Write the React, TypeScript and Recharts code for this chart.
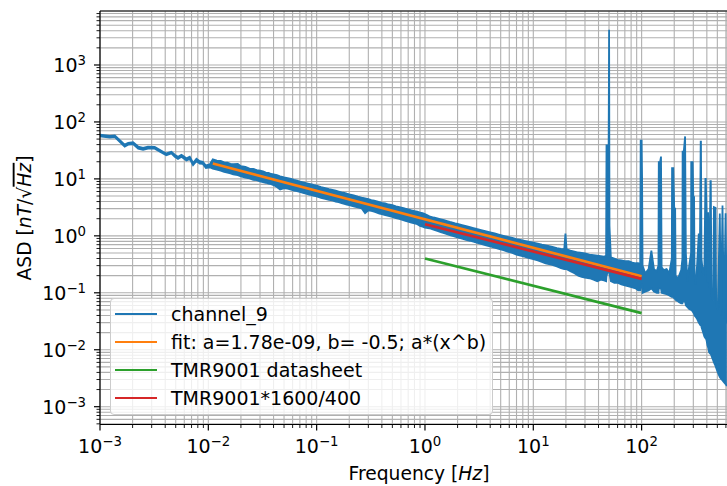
import React from 'react'
import { ComposedChart, Area, Line, XAxis, YAxis, CartesianGrid, ReferenceLine, Legend } from 'recharts'

// axis limits
const X_MIN = 1e-3
const X_MAX = 614
const Y_MIN = 4.87e-4
const Y_MAX = 8870

// channel_9 spectrum, read as the low / high edge of the noisy trace
const freqA = [0.001, 0.00123, 0.00137, 0.00169, 0.00182, 0.00202, 0.00225, 0.0025, 0.00277, 0.0032, 0.00382, 0.0041, 0.00456, 0.0049, 0.00525, 0.00565, 0.00628, 0.00674, 0.00723, 0.00777, 0.00834, 0.0089, 0.0095, 0.0103]
const highA = [60, 57, 58, 40, 43, 44, 37, 35, 37, 36.5, 30, 28, 30, 26.5, 24.5, 26.5, 23, 24.5, 19, 22.5, 20.5, 20, 17.2, 18]
const lowA = [56, 53, 54, 37, 40, 41, 34, 32.5, 34, 34, 28, 26, 28, 24.5, 22.5, 24.5, 21, 22.5, 17.5, 20.5, 18.5, 18.3, 15.5, 16]

const freqB = [0.011, 0.012, 0.013, 0.014, 0.015, 0.016, 0.017, 0.0187, 0.02, 0.022, 0.024, 0.026, 0.028, 0.03, 0.032, 0.034, 0.036, 0.038, 0.04, 0.043, 0.046, 0.05, 0.054, 0.058, 0.062, 0.066, 0.07, 0.075, 0.08, 0.085, 0.09, 0.095, 0.1, 0.11, 0.12, 0.13, 0.14, 0.15, 0.16, 0.17, 0.18, 0.19, 0.2, 0.22, 0.24, 0.26, 0.28, 0.3, 0.32, 0.34, 0.36, 0.38, 0.4, 0.43, 0.46, 0.5, 0.54, 0.58, 0.62, 0.66, 0.7, 0.75, 0.8, 0.85, 0.9, 0.95, 1.0]
const highB = [22.0, 21.0, 20.8, 19.5, 19.3, 18.4, 18.2, 18.3, 16.7, 16.2, 15.2, 15.0, 14.3, 13.9, 13.5, 12.9, 12.7, 12.2, 12.0, 11.6, 11.1, 10.6, 10.3, 10.0, 9.6, 9.3, 9.0, 8.7, 8.4, 8.2, 8.0, 7.8, 7.6, 7.2, 6.9, 6.6, 6.4, 6.2, 6.0, 5.8, 5.7, 5.5, 5.35, 5.15, 4.9, 4.7, 4.55, 4.4, 4.25, 4.15, 4.05, 3.9, 3.8, 3.7, 3.55, 3.45, 3.3, 3.2, 3.1, 3.0, 2.92, 2.8, 2.72, 2.65, 2.57, 2.5, 2.42]
const lowB = [15.2, 14.5, 13.9, 13.3, 12.9, 12.5, 12.0, 11.6, 11.1, 10.5, 10.2, 9.6, 9.5, 9.0, 8.8, 8.55, 8.25, 8.1, 7.8, 7.2, 6.5, 6.9, 6.75, 6.45, 6.25, 6.1, 5.9, 5.7, 5.5, 5.3, 5.2, 5.05, 4.95, 4.65, 4.45, 4.3, 4.2, 4.0, 3.9, 3.75, 3.65, 3.55, 3.45, 3.3, 3.15, 3.05, 2.5, 2.8, 2.75, 2.65, 2.55, 2.45, 2.4, 2.3, 2.25, 2.15, 2.05, 1.98, 1.9, 1.83, 1.78, 1.7, 1.65, 1.6, 1.5, 1.45, 1.4]

const freqC = [1.1, 1.2, 1.3, 1.4, 1.5, 1.6, 1.7, 1.8, 1.9, 2.0, 2.2, 2.4, 2.6, 2.8, 3.0, 3.3, 3.6, 4.0, 4.4, 4.8, 5.3, 5.8, 6.4, 7.0, 7.6, 8.3, 9.0, 10, 11, 12, 13, 14, 15, 16.5, 18, 19.3, 19.8, 20.3, 22, 24, 26, 28, 30, 33, 36, 39, 42, 45, 47, 47.4, 49.6, 50.1, 50.5, 52, 56, 60, 65, 70, 76, 82, 88, 93, 97]
const highC = [2.2, 2.1, 2.02, 1.95, 1.88, 1.82, 1.76, 1.71, 1.66, 1.62, 1.55, 1.48, 1.42, 1.37, 1.32, 1.26, 1.21, 1.15, 1.1, 1.05, 1.0, 0.96, 0.92, 0.88, 0.85, 0.82, 0.79, 0.76, 0.73, 0.7, 0.68, 0.66, 0.64, 0.61, 0.59, 0.58, 1.1, 0.58, 0.55, 0.53, 0.51, 0.5, 0.49, 0.47, 0.46, 0.45, 0.44, 0.43, 0.45, 38.6, 38.6, 4170, 1.5, 0.42, 0.4, 0.38, 0.37, 0.36, 0.36, 0.34, 0.33, 0.33, 0.32]
const lowC = [1.36, 1.28, 1.22, 1.16, 1.11, 1.07, 1.03, 1.0, 0.97, 0.94, 0.89, 0.85, 0.82, 0.79, 0.76, 0.72, 0.69, 0.65, 0.62, 0.59, 0.56, 0.53, 0.5, 0.47, 0.45, 0.43, 0.41, 0.39, 0.37, 0.35, 0.33, 0.32, 0.31, 0.29, 0.27, 0.26, 0.26, 0.26, 0.24, 0.22, 0.2, 0.19, 0.185, 0.18, 0.17, 0.16, 0.17, 0.165, 0.16, 0.2, 0.25, 0.3, 0.22, 0.16, 0.15, 0.15, 0.14, 0.135, 0.13, 0.125, 0.12, 0.11, 0.11]

const freqD = [98, 100, 101, 102, 108, 116, 123, 130, 138, 143, 144, 148, 151, 153, 160, 170, 180, 190, 191, 196, 200, 204, 206, 214, 222, 232, 238, 239, 245, 252, 256, 265, 275, 286, 287, 296, 300, 305, 308, 315, 325, 337, 345, 351, 353, 357, 370, 380, 388, 391, 398, 405, 411, 420, 432, 435, 442, 458, 465, 481, 488, 505, 527, 540, 558, 575, 596, 612]
const highD = [47, 47, 10.7, 0.3, 0.22, 0.26, 0.55, 0.26, 0.24, 0.3, 19.6, 19.6, 24.7, 0.28, 0.25, 0.26, 0.22, 0.4, 15.4, 15.4, 3.0, 3.0, 0.2, 0.18, 0.2, 0.25, 0.4, 30.2, 30.2, 55.7, 0.5, 0.16, 0.3, 0.5, 19.6, 19.6, 4.76, 4.76, 0.2, 0.14, 0.3, 1.1, 0.5, 45.3, 45.3, 0.4, 0.2, 0.3, 10, 10, 2.8, 0.15, 2.6, 0.12, 9.1, 9.1, 0.09, 0.073, 3.2, 3.1, 0.06, 0.05, 2.46, 0.04, 3.4, 0.035, 2.5, 0.029]
const lowD = [0.13, 0.14, 0.14, 0.1, 0.105, 0.11, 0.12, 0.105, 0.1, 0.1, 0.12, 0.12, 0.12, 0.1, 0.098, 0.095, 0.09, 0.085, 0.09, 0.085, 0.08, 0.078, 0.075, 0.072, 0.068, 0.065, 0.065, 0.07, 0.07, 0.07, 0.06, 0.056, 0.052, 0.05, 0.05, 0.047, 0.045, 0.043, 0.04, 0.038, 0.035, 0.03, 0.028, 0.03, 0.03, 0.025, 0.02, 0.017, 0.016, 0.016, 0.0145, 0.012, 0.011, 0.009, 0.0085, 0.0085, 0.0078, 0.0065, 0.006, 0.0052, 0.0048, 0.004, 0.0033, 0.0031, 0.0029, 0.0027, 0.0025, 0.0023]

// straight reference lines (two end points each)
const fitFreq = [0.011, 100]
const fitAsd = [18.6, 0.195]
const sheetFreq = [1, 100]
const sheetAsd = [0.4, 0.044]
const scaledAsd = [1.6, 0.176]

const seriesNames = ['channel_9', 'fit: a=1.78e-09, b= -0.5; a*(x^b)', 'TMR9001 datasheet', 'TMR9001*1600/400']
const seriesColors = ['#1f77b4', '#ff7f0e', '#2ca02c', '#d62728']

const xDecades = [1e-3, 1e-2, 1e-1, 1, 10, 100]
const yDecades = [1e-4, 1e-3, 1e-2, 1e-1, 1, 10, 100, 1000]
const minorSteps = [2, 3, 4, 5, 6, 7, 8, 9]

const FONT = 'DejaVu Sans'

const freqAll = [...freqA, ...freqB, ...freqC, ...freqD]
const lowAll = [...lowA, ...lowB, ...lowC, ...lowD]
const highAll = [...highA, ...highB, ...highC, ...highD]
const bandData = freqAll.map((f, i) => ({ f, band: [lowAll[i], highAll[i]] }))
const fitData = fitFreq.map((f, i) => ({ f, v: fitAsd[i] }))
const sheetData = sheetFreq.map((f, i) => ({ f, v: sheetAsd[i] }))
const scaledData = sheetFreq.map((f, i) => ({ f, v: scaledAsd[i] }))

const inRange = (lo: number, hi: number) => (v: number) => v >= lo && v <= hi
const xTicks = [...xDecades, ...xDecades.flatMap(d => minorSteps.map(m => d * m))].filter(inRange(X_MIN, X_MAX)).sort((a, b) => a - b)
const yTicks = [...yDecades, ...yDecades.flatMap(d => minorSteps.map(m => d * m))].filter(inRange(Y_MIN, Y_MAX)).sort((a, b) => a - b)

const isMajor = (v: number) => Math.abs(Math.log10(v) - Math.round(Math.log10(v))) < 1e-6
const expText = (v: number) => {
  const e = Math.round(Math.log10(v))
  return e < 0 ? '\u2212' + Math.abs(e) : String(e)
}

const XTick = (props: any) => {
  const { x, y, payload } = props
  const major = isMajor(payload.value)
  return (
    <g>
      <line x1={x} x2={x} y1={y} y2={y + (major ? 6 : 3.5)} stroke="#000" strokeWidth={major ? 1.2 : 0.9} />
      {major && (
        <text x={x} y={y + 28} textAnchor="middle" fontFamily={FONT} fontSize={19} fill="#000">
          10<tspan dy={-7} fontSize={13.3}>{expText(payload.value)}</tspan>
        </text>
      )}
    </g>
  )
}

const YTick = (props: any) => {
  const { x, y, payload } = props
  const major = isMajor(payload.value)
  return (
    <g>
      <line x1={x} x2={x - (major ? 6 : 3.5)} y1={y} y2={y} stroke="#000" strokeWidth={major ? 1.2 : 0.9} />
      {major && (
        <text x={x - 14} y={y + 7.3} textAnchor="end" fontFamily={FONT} fontSize={19} fill="#000">
          10<tspan dy={-7.3} fontSize={13.3}>{expText(payload.value)}</tspan>
        </text>
      )}
    </g>
  )
}

const XLabel = () => (
  <text x={419} y={480} textAnchor="middle" fontFamily={FONT} fontSize={18.7} fill="#000">
    Frequency [<tspan fontStyle="italic">Hz</tspan>]
  </text>
)

const YLabel = () => (
  <text x={30.7} y={218} transform="rotate(-90, 30.7, 218)" textAnchor="middle" fontFamily={FONT} fontSize={18.7} fill="#000">
    ASD [<tspan fontStyle="italic">nT</tspan>/{'\u221A'}<tspan fontStyle="italic" style={{ textDecoration: 'overline' }}>Hz</tspan>]
  </text>
)

const LegendBox = () => (
  <div style={{ boxSizing: 'border-box', width: 383, height: 117, position: 'relative', background: 'rgba(255,255,255,0.8)', border: '1px solid #cccccc', borderRadius: 4, fontFamily: FONT, fontSize: 19, color: '#000' }}>
    {seriesNames.map((name, i) => (
      <div key={name} style={{ position: 'absolute', left: 4, top: 1 + i * 28, height: 28, display: 'flex', alignItems: 'center', whiteSpace: 'nowrap' }}>
        <div style={{ width: 42, height: 2.8, background: seriesColors[i] }} />
        <span style={{ marginLeft: 14, lineHeight: '28px' }}>{name}</span>
      </div>
    ))}
  </div>
)

export default function App() {
  return (
    <div style={{ position: 'absolute', left: 0, top: 0 }}>
      <ComposedChart width={727} height={486} margin={{ top: 11, right: 0, bottom: 0, left: 0 }}>
        <CartesianGrid stroke="#b0b0b0" strokeWidth={1.1} />
        <XAxis dataKey="f" type="number" scale="log" domain={[X_MIN, X_MAX]} allowDataOverflow ticks={xTicks} interval={0}
          tick={<XTick />} tickLine={false} tickSize={0} tickMargin={0} height={61.5}
          axisLine={{ stroke: '#000', strokeWidth: 1.2 }} label={<XLabel />} />
        <YAxis type="number" scale="log" domain={[Y_MIN, Y_MAX]} allowDataOverflow ticks={yTicks} interval={0}
          tick={<YTick />} tickLine={false} tickSize={0} tickMargin={0} width={100}
          axisLine={{ stroke: '#000', strokeWidth: 1.2 }} label={<YLabel />} />
        <ReferenceLine y={Y_MAX} stroke="#000" strokeWidth={1.2} />
        <Area data={bandData} dataKey="band" type="linear" stroke={seriesColors[0]} strokeWidth={1.8} fill={seriesColors[0]} fillOpacity={1}
          dot={false} activeDot={false} isAnimationActive={false} />
        <Line data={fitData} dataKey="v" type="linear" stroke={seriesColors[1]} strokeWidth={2.7} dot={false} isAnimationActive={false} />
        <Line data={sheetData} dataKey="v" type="linear" stroke={seriesColors[2]} strokeWidth={2.7} dot={false} isAnimationActive={false} />
        <Line data={scaledData} dataKey="v" type="linear" stroke={seriesColors[3]} strokeWidth={2.7} dot={false} isAnimationActive={false} />
        <Legend layout="vertical" align="center" verticalAlign="middle" wrapperStyle={{ left: 110, top: 298, width: 383, height: 117 }}
          content={() => <LegendBox />} />
      </ComposedChart>
    </div>
  )
}
